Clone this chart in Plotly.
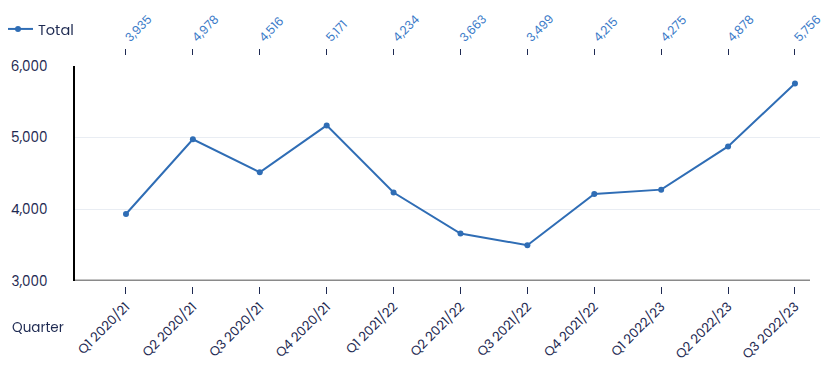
import plotly.graph_objects as go

quarters = ["Q1 2020/21", "Q2 2020/21", "Q3 2020/21", "Q4 2020/21", "Q1 2021/22",
            "Q2 2021/22", "Q3 2021/22", "Q4 2021/22", "Q1 2022/23", "Q2 2022/23", "Q3 2022/23"]
totals = [3935, 4978, 4516, 5171, 4234, 3663, 3499, 4215, 4275, 4878, 5756]
y_ticks = [3000, 4000, 5000, 6000]

NAVY = "#1e2a52"
LINE = "#2f6db5"
TOPLBL = "#3a7ac8"
FONT = "Poppins, 'Open Sans', sans-serif"

# page renders with an 8px body offset; coordinates below are figure coords
W, H = 830, 372
T, B, L, R = 47, 94, 67, 18
ph = H - T - B
pw = W - L - R
dom_bottom = (278 - 273) / ph
dom_top = (278 - 58) / ph

idx = list(range(len(quarters)))
xr = [-0.762, 10.374]

fig = go.Figure()
fig.add_trace(go.Scatter(
    x=idx, y=totals, mode="lines+markers", name="Total",
    line=dict(color=LINE, width=2), marker=dict(color=LINE, size=6),
    xaxis="x", yaxis="y"))
fig.add_trace(go.Scatter(
    x=idx, y=totals, mode="markers", opacity=0, showlegend=False,
    hoverinfo="skip", xaxis="x2", yaxis="y"))

fig.update_layout(
    width=W, height=H,
    margin=dict(t=T, b=B, l=L, r=R, pad=0, autoexpand=False),
    paper_bgcolor="white", plot_bgcolor="white",
    font=dict(family=FONT, color=NAVY, size=12),
    showlegend=True,
    legend=dict(x=(-10 - L) / pw, xanchor="left", y=(278 - 21) / ph, yanchor="middle",
                orientation="h", font=dict(size=14.5, color=NAVY),
                bgcolor="rgba(0,0,0,0)"),
    xaxis=dict(
        tickmode="array", tickvals=idx, ticktext=quarters, range=xr,
        anchor="free", position=0, showline=False, showgrid=False, zeroline=False,
        ticks="outside", ticklen=7, tickwidth=1, tickcolor=NAVY, automargin=False,
        tickangle=-45, tickfont=dict(size=13, color=NAVY)),
    xaxis2=dict(
        tickmode="array", tickvals=idx,
        ticktext=[f"{v:,}" for v in totals], range=xr,
        overlaying="x", side="top", anchor="free", position=1,
        showline=False, showgrid=False, zeroline=False, automargin=False,
        ticks="outside", ticklen=6, tickwidth=1, tickcolor=NAVY,
        tickangle=-45, tickfont=dict(size=12, color=TOPLBL)),
    yaxis=dict(
        domain=[dom_bottom, dom_top], range=[3000, 6000],
        tickmode="array", tickvals=y_ticks, ticktext=[f"{v:,}" for v in y_ticks],
        showgrid=True, gridcolor="#e9edf3", gridwidth=1, zeroline=False,
        showline=True, linecolor="black", linewidth=1.5, automargin=False,
        ticks="", ticklabelstandoff=23,
        tickfont=dict(size=13.5, color=NAVY)),
    annotations=[dict(text="Quarter", xref="paper", yref="paper",
                      x=-L / pw, xanchor="left", xshift=2,
                      y=(278 - 319) / ph, yanchor="middle", showarrow=False,
                      font=dict(size=13.5, color=NAVY))],
    shapes=[dict(type="line", xref="paper", yref="y", x0=0, x1=(802 - L) / pw,
                 y0=3000, y1=3000, line=dict(color="#8a8a8a", width=3), layer="above")],
)

fig.write_html("out.html")
